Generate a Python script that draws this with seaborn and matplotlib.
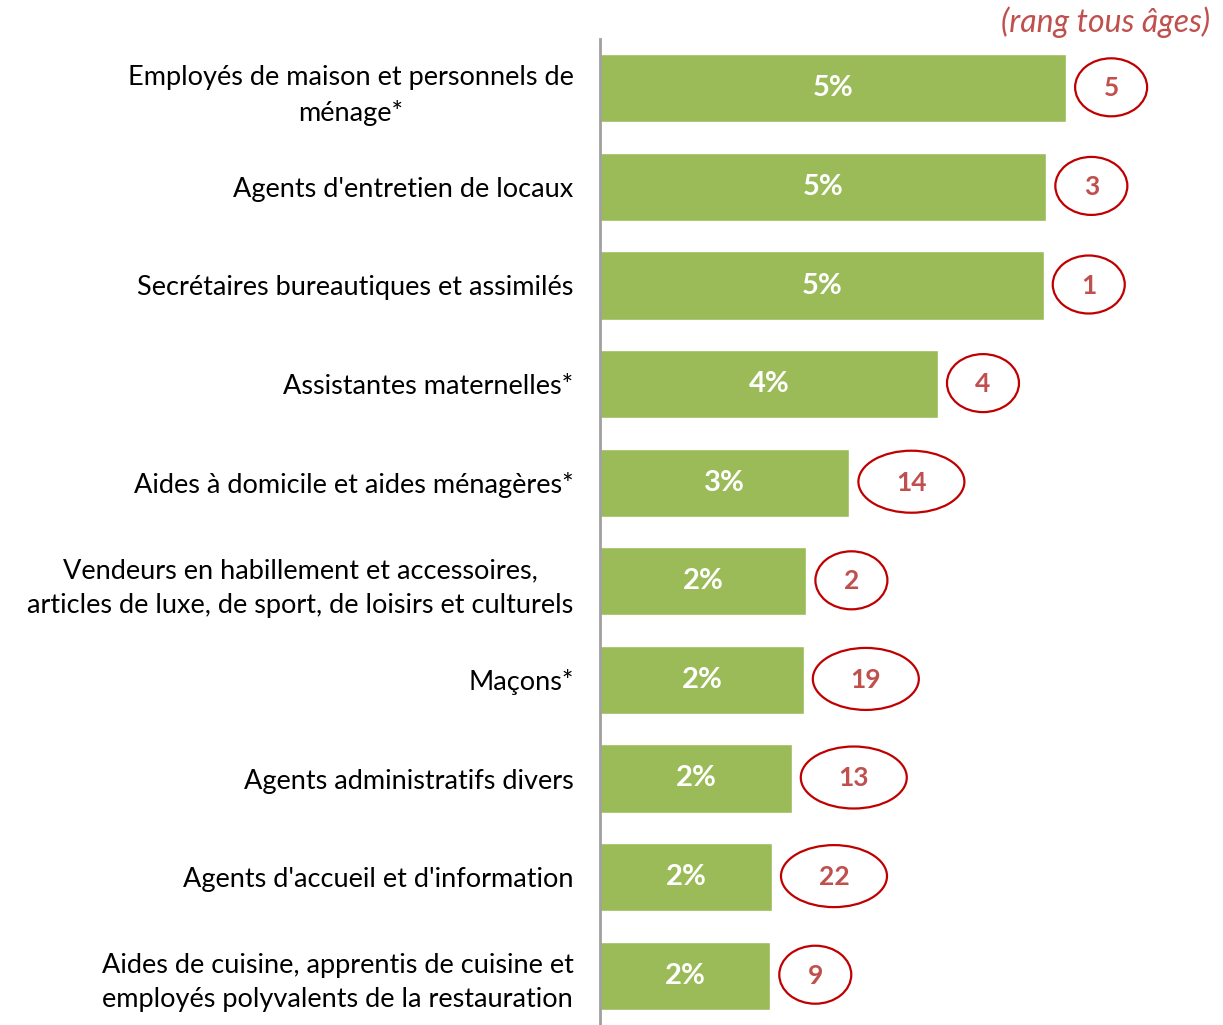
import matplotlib
matplotlib.use("Agg")
import matplotlib.pyplot as plt
from matplotlib.patches import Ellipse
import seaborn as sns
import pandas as pd

categories = [
    "Employés de maison et personnels de\nménage*",
    "Agents d'entretien de locaux",
    "Secrétaires bureautiques et assimilés",
    "Assistantes maternelles*",
    "Aides à domicile et aides ménagères*",
    "Vendeurs en habillement et accessoires,\narticles de luxe, de sport, de loisirs et culturels",
    "Maçons*",
    "Agents administratifs divers",
    "Agents d'accueil et d'information",
    "Aides de cuisine, apprentis de cuisine et\nemployés polyvalents de la restauration",
]
values = [5.42, 5.19, 5.16, 3.93, 2.90, 2.40, 2.37, 2.23, 2.00, 1.98]
pct_labels = ["5%", "5%", "5%", "4%", "3%", "2%", "2%", "2%", "2%", "2%"]
ranks = [5, 3, 1, 4, 14, 2, 19, 13, 22, 9]

df = pd.DataFrame({"metier": categories, "part": values})

sns.set_theme(style="white")
plt.rcParams["font.family"] = ["Lato", "DejaVu Sans"]

fig = plt.figure(figsize=(12.23, 10.25), dpi=100)
ax = fig.add_axes([600 / 1223, 0.0, 623 / 1223, 1 - 39 / 1025])

px_x = 86.0    # pixels per percent
px_y = 98.6    # pixels per category
sns.barplot(data=df, x="part", y="metier", orient="h", color="#9BBB59",
            saturation=1, width=0.69, ax=ax)

ax.set_xlim(0, 623 / px_x)
ax.set_ylim(len(categories) - 0.5, -0.5)
ax.set_xlabel("")
ax.set_ylabel("")
ax.set_xticks([])
for s in ["top", "right", "bottom"]:
    ax.spines[s].set_visible(False)
ax.spines["left"].set_color("#A0A0A0")
ax.spines["left"].set_linewidth(2)

ax.tick_params(axis="y", length=0, pad=19)
for lab in ax.get_yticklabels():
    lab.set_fontsize(19.5)
    lab.set_color("black")
    lab.set_multialignment("center")
    lab.set_linespacing(1.45)

for i, (v, p, r) in enumerate(zip(values, pct_labels, ranks)):
    ax.text(v / 2, i, p, ha="center", va="center", color="white",
            fontsize=21, fontweight="bold")
    w = 72 if r < 10 else 106
    h = 58 if r < 10 else 62
    cx = v + (9 + w / 2) / px_x
    ax.add_patch(Ellipse((cx, i - 0.01), w / px_x, h / px_y, fill=False,
                         edgecolor="#C00000", lw=1.6, clip_on=False))
    ax.text(cx, i, str(r), ha="center", va="center", color="#C0504D",
            fontsize=19, fontweight="bold")

fig.text(1210 / 1223, 1 - 22 / 1025, "(rang tous âges)", ha="right", va="center",
         color="#C0504D", fontsize=23, style="italic")

fig.savefig("out.png", dpi=100)
